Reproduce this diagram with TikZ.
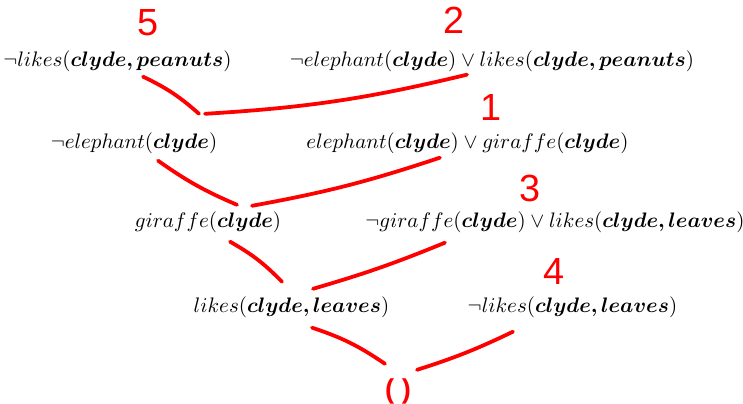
\documentclass[tikz,border=0pt]{standalone}
\usepackage{amsmath, amssymb, bm}
\usepackage{fontspec}
\newfontfamily\handfont{Liberation Sans}
\usepackage{tikz}
\usetikzlibrary{calc}

\begin{document}
\begin{tikzpicture}[x=0.476pt,y=-0.476pt,
    clause/.style={anchor=base, inner sep=0pt},
    rednum/.style={text=red, inner sep=0pt, font=\handfont\fontsize{18}{18}\selectfont},
    scribble/.style={red, line width=1.8pt, line cap=round}]
    \useasboundingbox (0,0) rectangle (743,404);
    % clauses
    \node[clause] (c5) at (117.5,67) {$\neg likes(\bm{clyde, peanuts})$};
    \node[clause] (c2) at (492,67) {$\neg elephant(\bm{clyde}) \vee likes(\bm{clyde, peanuts})$};
    \node[clause] (r1) at (134,149) {$\neg elephant(\bm{clyde})$};
    \node[clause] (c1) at (467.5,149) {$elephant(\bm{clyde}) \vee giraffe(\bm{clyde})$};
    \node[clause] (r2) at (208,228) {$giraffe(\bm{clyde})$};
    \node[clause] (c3) at (555,228) {$\neg giraffe(\bm{clyde}) \vee likes(\bm{clyde, leaves})$};
    \node[clause] (r3) at (291.5,313) {$likes(\bm{clyde, leaves})$};
    \node[clause] (c4) at (572.5,313) {$\neg likes(\bm{clyde, leaves})$};
    \node[rednum, font=\handfont\bfseries\fontsize{13}{13}\selectfont] (empty) at (398,391) {(\;)};
    % numbers
    \node[rednum] (n5) at (148,23) {5};
    \node[rednum] (n2) at (454,20) {2};
    \node[rednum] (n1) at (491,108) {1};
    \node[rednum] (n3) at (530,188) {3};
    \node[rednum] (n4) at (554,272) {4};
    % resolution steps
    \draw[scribble] ($(c5.south)+(25.5,4)$) to[bend left=8] ($(r1.north)+(65,-19)$);
    \draw[scribble] ($(c2.south)+(-25,2)$) to[bend left=5] ($(r1.north)+(71,-19)$);
    \draw[scribble] ($(r1.south)+(24,6)$) to[bend right=6] ($(r2.north)+(29,-7)$);
    \draw[scribble] ($(c1.south)+(-27.5,3)$) to[bend left=4] ($(r2.north)+(44,-6)$);
    \draw[scribble] ($(r2.south)+(22,8)$) to[bend left=8] ($(r3.north)+(-9.5,-15)$);
    \draw[scribble] ($(c3.south)+(-110,9)$) to[bend left=3] ($(r3.north)+(21.5,-8)$);
    \draw[scribble] ($(r3.south)+(20.5,9)$) to[bend left=8] ($(empty.north)+(-13,-14)$);
    \draw[scribble] ($(c4.south)+(-59.5,13)$) to[bend left=4] ($(empty.north)+(19,-8)$);
\end{tikzpicture}
\end{document}
